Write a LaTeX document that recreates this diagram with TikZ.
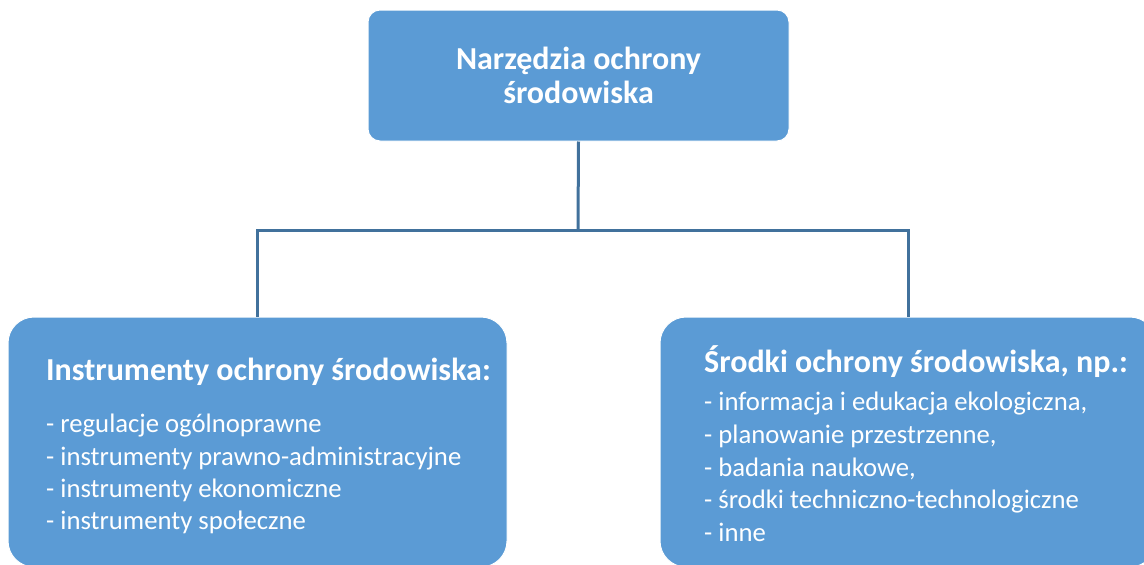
\documentclass[tikz,border=0pt]{standalone}
\usepackage{fontspec}
\setmainfont{Carlito}
\definecolor{boxblue}{HTML}{5B9BD5}
\definecolor{linkblue}{HTML}{41719C}
\begin{document}
\begin{tikzpicture}[x=1pt,y=-1pt,
  box/.style={fill=boxblue,draw=white,line width=1pt,inner sep=0pt},
  link/.style={draw=linkblue,line width=3pt},
  txt/.style={text=white,inner sep=0pt}]
\useasboundingbox (0,0) rectangle (1144,565);
\node[box,rounded corners=12pt,minimum width=421pt,minimum height=131pt] (top) at (578.5,75.5) {};
\node[box,rounded corners=26pt,minimum width=499pt,minimum height=250pt] (left) at (257.5,442) {};
\node[box,rounded corners=26pt,minimum width=496pt,minimum height=250pt] (right) at (908,442) {};
\coordinate (j) at (578,230);
\draw[link] (top.south) -- (j);
\draw[link] (left.north) |- (j) -| (right.north);
\node[txt,align=center,font=\fontsize{32}{34}\selectfont\bfseries] (ttl) at (578.5,75) {Narzędzia ochrony\\środowiska};
\node[txt,anchor=west,font=\fontsize{32}{36}\selectfont\bfseries] (lh) at (46,372) {Instrumenty ochrony środowiska:};
\node[txt,anchor=north west,align=left,font=\fontsize{26.7}{32.3}\selectfont] (ll) at (46,414) {- regulacje ogólnoprawne\\- instrumenty prawno-administracyjne\\- instrumenty ekonomiczne\\- instrumenty społeczne};
\node[txt,anchor=west,font=\fontsize{32}{36}\selectfont\bfseries] (rh) at (704,362) {Środki ochrony środowiska, np.:};
\node[txt,anchor=north west,align=left,font=\fontsize{26.7}{32.7}\selectfont] (rl) at (704,392) {- informacja i edukacja ekologiczna,\\- planowanie przestrzenne,\\- badania naukowe,\\- środki techniczno-technologiczne\\- inne};
\end{tikzpicture}
\end{document}
